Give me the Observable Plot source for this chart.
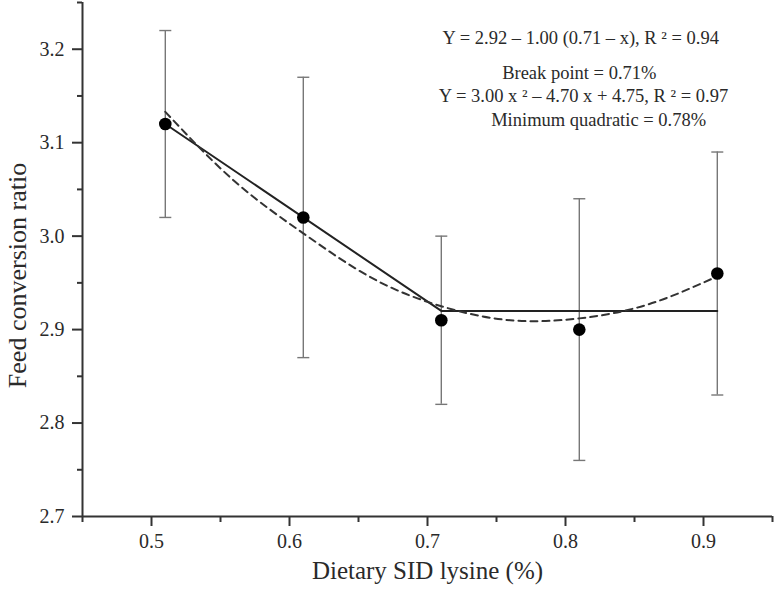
<!DOCTYPE html>
<html><head><meta charset="utf-8">
<script src="https://cdn.jsdelivr.net/npm/d3@7"></script>
<script src="https://cdn.jsdelivr.net/npm/@observablehq/plot@0.6"></script>
<style>body{margin:0;background:#fff} svg, svg text{font-family:"Liberation Serif","Times New Roman",serif !important}</style>
</head><body><div id="chart"></div>
<script>
// Observed means and error bars
const lysine = [0.51, 0.61, 0.71, 0.81, 0.91];
const fcr = [3.12, 3.02, 2.91, 2.90, 2.96];
const errLow = [3.02, 2.87, 2.82, 2.76, 2.83];
const errHigh = [3.22, 3.17, 3.00, 3.04, 3.09];
// Broken-line fit
const brokenX = [0.51, 0.71, 0.91];
const brokenY = [3.12, 2.92, 2.92];
// Quadratic fit curve
const quadX = [0.51, 0.56, 0.61, 0.66, 0.71, 0.76, 0.81, 0.86, 0.91];
const quadY = [3.133, 3.059, 3.003, 2.955, 2.925, 2.910, 2.912, 2.927, 2.957];
// Ticks
const xMajor = [0.5, 0.6, 0.7, 0.8, 0.9];
const xMinor = [0.45, 0.55, 0.65, 0.75, 0.85, 0.95];
const yMajor = [2.7, 2.8, 2.9, 3.0, 3.1, 3.2];
const yMinor = [2.75, 2.85, 2.95, 3.05, 3.15, 3.25];
// Annotations
const notes = [
  "Y = 2.92 \u2013 1.00 (0.71 \u2013 x), R \u00b2 = 0.94",
  "Break point = 0.71%",
  "Y = 3.00 x \u00b2 \u2013 4.70 x + 4.75, R \u00b2 = 0.97",
  "Minimum quadratic = 0.78%"
];
const noteX = [0.811, 0.810, 0.813, 0.824];
const noteY = [3.2115, 3.175, 3.150, 3.124];

const pts = lysine.map((x, i) => ({x, y: fcr[i], lo: errLow[i], hi: errHigh[i]}));
const broken = brokenX.map((x, i) => ({x, y: brokenY[i]}));
const quad = quadX.map((x, i) => ({x, y: quadY[i]}));
const noteData = notes.map((t, i) => ({t, x: noteX[i], y: noteY[i]}));

const capSymbol = {draw(ctx) { ctx.moveTo(-6, 0); ctx.lineTo(6, 0); }};
const ink = "#2a2a2a";

const chart = Plot.plot({
  width: 777,
  height: 592,
  marginLeft: 82,
  marginRight: 5,
  marginTop: 2,
  marginBottom: 76,
  style: {fontFamily: "'Liberation Serif','Times New Roman',serif", color: ink, background: "#fff"},
  x: {domain: [0.45, 0.95]},
  y: {domain: [2.7, 3.25]},
  marks: [
    Plot.axisX(xMinor, {tickSize: 6, tickFormat: () => "", stroke: "#333", strokeWidth: 2, label: null}),
    Plot.axisX(xMajor, {tickSize: 10, tickPadding: 7, fontSize: 20, tickFormat: d3.format(".1f"), stroke: "#333", strokeWidth: 2, label: null}),
    Plot.axisY(yMinor, {tickSize: 5, tickFormat: () => "", stroke: "#333", strokeWidth: 2, label: null}),
    Plot.axisY(yMajor, {tickSize: 10, tickPadding: 8, fontSize: 20, tickFormat: d3.format(".1f"), stroke: "#333", strokeWidth: 2, label: null}),
    Plot.ruleX([0.45], {stroke: "#333", strokeWidth: 2}),
    Plot.ruleY([2.7], {stroke: "#333", strokeWidth: 2}),
    Plot.ruleX(pts, {x: "x", y1: "lo", y2: "hi", stroke: "#777", strokeWidth: 1.4}),
    Plot.dot(pts, {x: "x", y: "lo", symbol: capSymbol, stroke: "#777", strokeWidth: 1.4}),
    Plot.dot(pts, {x: "x", y: "hi", symbol: capSymbol, stroke: "#777", strokeWidth: 1.4}),
    Plot.line(broken, {x: "x", y: "y", stroke: "#222", strokeWidth: 2}),
    Plot.line(quad, {x: "x", y: "y", curve: "natural", stroke: "#333", strokeWidth: 2, strokeDasharray: "7,5"}),
    Plot.dot(pts, {x: "x", y: "y", r: 6.3, fill: "#000"}),
    Plot.text(noteData, {x: "x", y: "y", text: "t", fontSize: 18.5, fill: ink, textAnchor: "middle"}),
    Plot.text(["Dietary SID lysine (%)"], {frameAnchor: "bottom", dy: 62, fontSize: 25, fill: ink, textAnchor: "middle"}),
    Plot.text(["Feed conversion ratio"], {frameAnchor: "left", dx: -65, dy: 16, rotate: -90, fontSize: 26, fill: ink, textAnchor: "middle"})
  ]
});
document.getElementById("chart").appendChild(chart);
</script>
</body></html>
